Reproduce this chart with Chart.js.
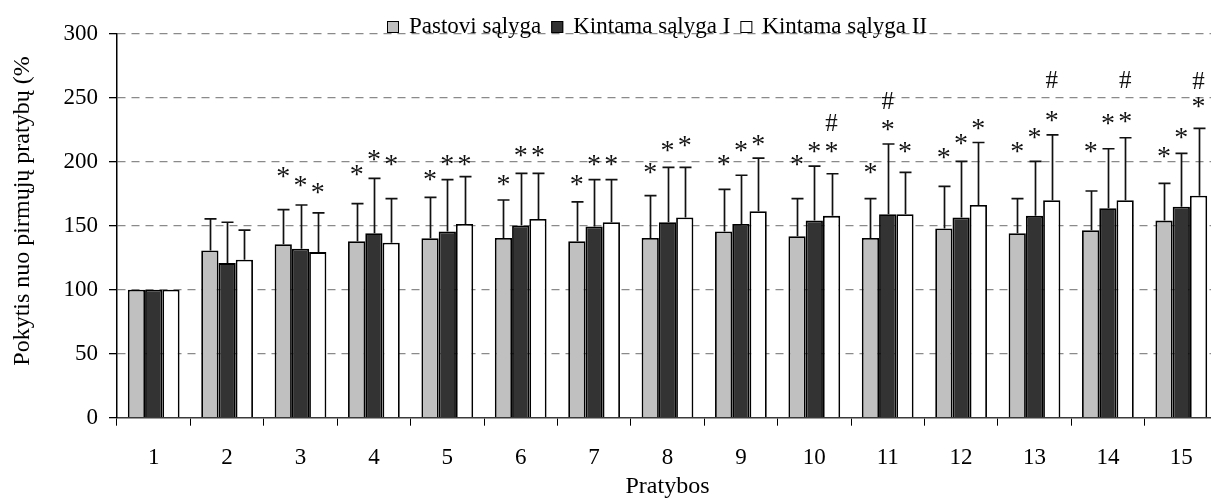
<!DOCTYPE html>
<html>
<head>
<meta charset="utf-8">
<script src="https://cdn.jsdelivr.net/npm/chart.js@4.4.1/dist/chart.umd.min.js"></script>
<style>
  html, body { margin: 0; padding: 0; overflow: hidden; background: #ffffff; }
  #wrap { width: 1222px; height: 499px; position: relative; overflow: hidden; }
  canvas { display: block; }
</style>
</head>
<body>
<div id="wrap"><canvas id="chart" width="1222" height="499"></canvas></div>
<script>
// ---------------- data ----------------
const categories = ['1','2','3','4','5','6','7','8','9','10','11','12','13','14','15'];
const seriesNames = ['Pastovi sąlyga', 'Kintama sąlyga I', 'Kintama sąlyga II'];

const pastovi   = [100, 130.6, 135.5, 137.8, 140.2, 140.4, 137.8, 140.4, 145.4, 141.7, 140.4, 147.7, 144.1, 146.4, 153.9];
const kintamaI  = [100, 120.7, 131.9, 144.1, 145.4, 150.1, 149.3, 152.6, 151.3, 153.9, 158.9, 156.3, 157.6, 163.6, 164.8];
const kintamaII = [100, 123.3, 129.3, 136.6, 151.3, 155.2, 152.6, 156.3, 161.2, 157.6, 158.9, 166.1, 169.8, 169.8, 173.4];

const pastoviSD   = [0, 24.6, 27.0, 29.4, 31.9, 29.6, 30.7, 33.0, 32.9, 29.4, 30.7, 33.0, 27.0, 30.6, 29.1];
const kintamaISD  = [0, 31.9, 34.2, 42.8, 40.5, 40.7, 36.6, 42.9, 38.0, 42.6, 54.8, 43.9, 42.6, 46.4, 41.6];
const kintamaIISD = [0, 23.1, 30.6, 34.5, 36.9, 35.6, 33.3, 39.2, 41.5, 32.9, 32.7, 48.8, 51.1, 48.8, 52.5];

// significance marks: value (in % units) where each mark sits
const pastoviStar   = [null, null, 191.6, 192.9, 189.5, 185.6, 185.6, 194.2, 200.7, 200.7, 194.2, 206.4, 211.1, 211.1, 207.2];
const kintamaIStar  = [null, null, 184.3, 204.6, 200.7, 207.7, 200.7, 211.6, 211.6, 211.1, 227.9, 217.5, 222.0, 233.1, 222.0];
const kintamaIIStar = [null, null, 178.6, 200.7, 200.7, 207.7, 200.7, 215.5, 216.3, 211.1, 211.1, 228.7, 234.9, 234.4, 246.1];
const pastoviHash   = [null, null, null, null, null, null, null, null, null, null, null, null, null, null, null];
const kintamaIHash  = [null, null, null, null, null, null, null, null, null, null, 247.4, null, null, null, null];
const kintamaIIHash = [null, null, null, null, null, null, null, null, null, 230.5, null, null, 264.3, 264.3, 263.5];

const yTicks = [0, 50, 100, 150, 200, 250, 300];
const yTitle = 'Pokytis nuo pirmųjų pratybų (%';
const xTitle = 'Pratybos';

// ---------------- styles ----------------
const FONT = '"Liberation Serif", "Times New Roman", serif';
const fills = ['#c0c0c0', '#333333', '#ffffff'];
const sdSets = [pastoviSD, kintamaISD, kintamaIISD];
const starSets = [pastoviStar, kintamaIStar, kintamaIIStar];
const hashSets = [pastoviHash, kintamaIHash, kintamaIIHash];

const errorBarPlugin = {
  id: 'errorBars',
  afterDatasetsDraw(chart) {
    const ctx = chart.ctx;
    const y = chart.scales.y;
    ctx.save();
    ctx.strokeStyle = '#111';
    ctx.lineWidth = 1.7;
    chart.data.datasets.forEach((ds, di) => {
      const meta = chart.getDatasetMeta(di);
      meta.data.forEach((bar, i) => {
        const sd = sdSets[di][i];
        if (!sd) return;
        const yTop = y.getPixelForValue(ds.data[i] + sd);
        const yBase = y.getPixelForValue(ds.data[i]);
        const x = Math.round(bar.x) + 0.5;
        ctx.beginPath();
        ctx.moveTo(x, yBase);
        ctx.lineTo(x, yTop);
        ctx.moveTo(x - 6, yTop);
        ctx.lineTo(x + 6, yTop);
        ctx.stroke();
      });
    });
    // significance marks
    ctx.fillStyle = '#111';
    ctx.textAlign = 'center';
    ctx.textBaseline = 'alphabetic';
    const drawMark = (txt, x, val, size) => {
      ctx.font = size + 'px ' + FONT;
      const m = ctx.measureText(txt);
      const py = y.getPixelForValue(val);
      const base = py + (m.actualBoundingBoxAscent - m.actualBoundingBoxDescent) / 2;
      ctx.fillText(txt, x, base);
    };
    chart.data.datasets.forEach((ds, di) => {
      const meta = chart.getDatasetMeta(di);
      meta.data.forEach((bar, i) => {
        if (starSets[di][i] != null) drawMark('*', bar.x, starSets[di][i], 28);
        if (hashSets[di][i] != null) drawMark('#', bar.x, hashSets[di][i], 25);
      });
    });
    ctx.restore();
  },
  afterDraw(chart) {
    const ctx = chart.ctx;
    ctx.save();
    // y title
    ctx.font = '24px ' + FONT;
    ctx.fillStyle = '#000';
    ctx.textAlign = 'center';
    ctx.textBaseline = 'alphabetic';
    const m = ctx.measureText(yTitle);
    ctx.translate(23, 211);
    ctx.rotate(-Math.PI / 2);
    ctx.fillText(yTitle, 0, (m.actualBoundingBoxAscent - m.actualBoundingBoxDescent) / 2);
    ctx.restore();

    // legend
    ctx.save();
    ctx.font = '23px ' + FONT;
    ctx.textBaseline = 'alphabetic';
    ctx.textAlign = 'left';
    let x = 387;
    seriesNames.forEach((name, i) => {
      ctx.fillStyle = fills[i];
      ctx.fillRect(x, 21, 12, 12);
      ctx.strokeStyle = '#000';
      ctx.lineWidth = 1;
      ctx.strokeRect(x + 0.5, 21.5, 11, 11);
      x += 12 + 10;
      ctx.fillStyle = '#000';
      ctx.fillText(name, x, 33);
      x += ctx.measureText(name).width + 10;
    });
    ctx.restore();
  }
};

new Chart(document.getElementById('chart'), {
  type: 'bar',
  data: {
    labels: categories,
    datasets: [
      { label: seriesNames[0], data: pastovi,   backgroundColor: fills[0], borderColor: '#000', borderWidth: 1.8 },
      { label: seriesNames[1], data: kintamaI,  backgroundColor: fills[1], borderColor: '#000', borderWidth: 1.8 },
      { label: seriesNames[2], data: kintamaII, backgroundColor: fills[2], borderColor: '#000', borderWidth: 1.8 }
    ]
  },
  options: {
    responsive: false,
    animation: false,
    devicePixelRatio: 1,
    layout: { padding: { left: 0, right: 4, top: 33.5, bottom: 0 } },
    datasets: { bar: { categoryPercentage: 0.705, barPercentage: 1.0 } },
    plugins: {
      legend: { display: false },
      tooltip: { enabled: false },
      title: { display: false }
    },
    scales: {
      x: {
        grid: { display: true, drawOnChartArea: false, drawTicks: true, tickLength: 8, tickColor: '#000', lineWidth: 1, offset: true },
        border: { display: true, color: '#3a3a3a', width: 1.5 },
        ticks: { color: '#000', font: { family: FONT, size: 23 }, padding: 18, maxRotation: 0, autoSkip: false },
        title: { display: true, text: xTitle, color: '#000', font: { family: FONT, size: 24, lineHeight: 1 }, padding: 0 },
        afterFit(s) { s.height = 499 - 417.7; }
      },
      y: {
        min: 0,
        max: 300,
        afterBuildTicks(s) { s.ticks = yTicks.map(v => ({ value: v })); },
        grid: {
          color: (c) => (c.tick && c.tick.value === 0) ? 'rgba(0,0,0,0)' : '#8a8a8a',
          lineWidth: 1.3,
          tickColor: '#000',
          tickLength: 8,
          drawTicks: true
        },
        border: {
          display: true, color: '#000', width: 1.5,
          dash: (c) => (c.tick && c.tick.value === 0) ? [] : [8, 6]
        },
        ticks: { color: '#000', font: { family: FONT, size: 23 }, padding: 11 },
        afterFit(s) { s.width = 117; }
      }
    }
  },
  plugins: [errorBarPlugin]
});
</script>
</body>
</html>
